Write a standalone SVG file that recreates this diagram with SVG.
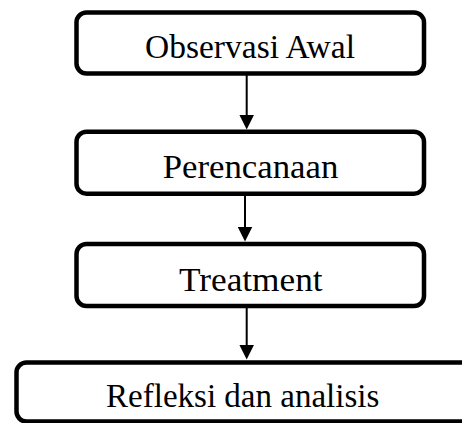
<svg xmlns="http://www.w3.org/2000/svg" width="462" height="423" viewBox="0 0 462 423">
  <style>
    .box { fill: #ffffff; stroke: #000000; stroke-width: 4.5; }
    .label { font-family: "Liberation Serif", "Times New Roman", serif; font-size: 34px; fill: #000000; text-anchor: middle; }
    .conn { stroke: #000000; stroke-width: 2; fill: none; }
  </style>
  <defs>
    <marker id="arrow" markerUnits="userSpaceOnUse" markerWidth="15" markerHeight="15" viewBox="0 0 15 15" refX="1" refY="7.5" orient="auto">
      <path d="M0,0 L15,7.5 L0,15 Z" fill="#000000"/>
    </marker>
  </defs>
  <rect width="462" height="423" fill="#ffffff"/>

  <g id="connectors">
    <line class="conn" x1="246.7" y1="75" x2="246.7" y2="115.5" marker-end="url(#arrow)"/>
    <line class="conn" x1="245" y1="195" x2="245" y2="227.5" marker-end="url(#arrow)"/>
    <line class="conn" x1="246.7" y1="307" x2="246.7" y2="345.5" marker-end="url(#arrow)"/>
  </g>

  <g id="node-observasi">
    <rect class="box" x="76.5" y="12.5" width="347.5" height="61" rx="10" ry="10"/>
    <text class="label" x="250" y="58" textLength="210" lengthAdjust="spacingAndGlyphs">Observasi Awal</text>
  </g>

  <g id="node-perencanaan">
    <rect class="box" x="76.5" y="131.7" width="347.5" height="62" rx="10" ry="10"/>
    <text class="label" x="250.5" y="178.3" textLength="175.7" lengthAdjust="spacingAndGlyphs">Perencanaan</text>
  </g>

  <g id="node-treatment">
    <rect class="box" x="76.5" y="244" width="347.5" height="62" rx="10" ry="10"/>
    <text class="label" x="250.8" y="290.7" textLength="143.7" lengthAdjust="spacingAndGlyphs">Treatment</text>
  </g>

  <g id="node-refleksi">
    <rect class="box" x="16.5" y="362.5" width="460" height="59" rx="10" ry="10"/>
    <text class="label" x="242.7" y="406.7" textLength="273.3" lengthAdjust="spacingAndGlyphs">Refleksi dan analisis</text>
  </g>
</svg>
